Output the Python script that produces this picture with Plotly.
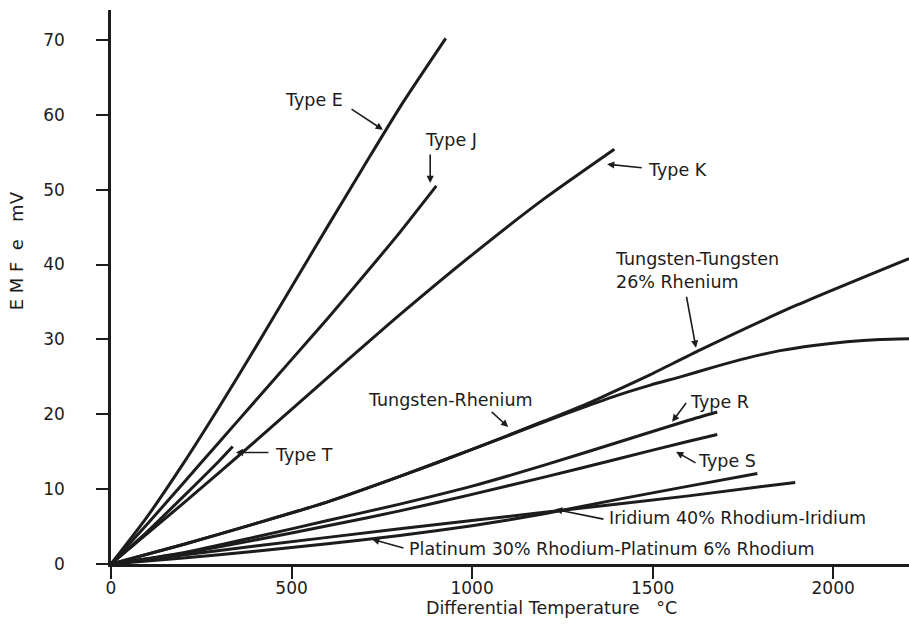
import plotly.graph_objects as go

# ---- data ----
type_e_t = [0, 100, 200, 300, 400, 500, 600, 700, 800, 927]
type_e_v = [0, 6.3, 13.4, 21.0, 28.9, 37.0, 45.1, 53.1, 61.0, 70.2]

type_j_t = [0, 100, 200, 300, 400, 500, 600, 700, 800, 901]
type_j_v = [0, 5.3, 10.8, 16.3, 21.8, 27.3, 32.8, 38.5, 44.3, 50.5]

type_k_t = [0, 200, 400, 600, 800, 1000, 1200, 1394]
type_k_v = [0, 8.1, 16.4, 24.9, 33.3, 41.3, 48.8, 55.4]

type_t_t = [0, 100, 200, 300, 337]
type_t_v = [0, 4.3, 9.0, 13.8, 15.7]

w_w26re_t = [0, 200, 400, 600, 800, 1000, 1200, 1318, 1400, 1494, 1632, 1900, 2210]
w_w26re_v = [0, 2.6, 5.4, 8.3, 11.7, 15.3, 19.1, 21.4, 23.2, 25.3, 28.6, 34.6, 40.8]

w_re_t = [0, 200, 400, 600, 800, 1000, 1200, 1318, 1400, 1494, 1577, 1669, 1761, 1853, 1946, 2038, 2130, 2210]
w_re_v = [0, 2.6, 5.4, 8.3, 11.7, 15.3, 19.0, 21.1, 22.5, 23.9, 25.0, 26.3, 27.5, 28.5, 29.2, 29.7, 30.0, 30.1]

type_r_t = [0, 200, 400, 600, 800, 1000, 1200, 1400, 1600, 1679]
type_r_v = [0, 1.5, 3.6, 5.8, 8.0, 10.4, 13.2, 16.2, 19.2, 20.3]

type_s_t = [0, 200, 400, 600, 800, 1000, 1200, 1400, 1600, 1679]
type_s_v = [0, 1.4, 3.2, 5.1, 7.1, 9.3, 11.6, 14.0, 16.4, 17.3]

type_b_t = [0, 200, 400, 600, 800, 1000, 1200, 1400, 1600, 1790]
type_b_v = [0, 0.8, 1.7, 2.7, 3.8, 5.1, 6.7, 8.6, 10.4, 12.1]

ir_rh_t = [0, 400, 800, 1200, 1600, 1895]
ir_rh_v = [0, 2.4, 4.7, 6.9, 9.1, 10.9]

x_ticks = [0, 500, 1000, 1500, 2000]
y_ticks = [0, 10, 20, 30, 40, 50, 60, 70]

# label text, text position (T, mV), anchor, arrow tail (T, mV), arrow tip (T, mV)
labels = [
    ("Type E", 562, 62.0, "center", (662, 60.9), (753, 58.0)),
    ("Type J", 942, 56.6, "center", (884, 54.9), (884, 50.9)),
    ("Type K", 1568, 52.6, "center", (1474, 52.9), (1374, 53.4)),
    ("Tungsten-Tungsten<br>26% Rhenium", 1391, 39.2, "left", (1593, 35.9), (1620, 28.9)),
    ("Tungsten-Rhenium", 939, 21.9, "center", (1050, 20.5), (1100, 18.3)),
    ("Type T", 535, 14.5, "center", (440, 14.9), (346, 14.9)),
    ("Type R", 1684, 21.6, "center", (1596, 21.7), (1554, 19.0)),
    ("Type S", 1706, 13.7, "center", (1623, 13.4), (1565, 15.0)),
    ("Iridium 40% Rhodium-Iridium", 1374, 6.1, "left", (1368, 5.95), (1230, 7.3)),
    ("Platinum 30% Rhodium-Platinum 6% Rhodium", 820, 2.07, "left", (814, 2.07), (723, 3.3)),
]

INK = "#1c1c1c"
FONT = "DejaVu Sans"

series = [
    (type_e_t, type_e_v), (type_j_t, type_j_v), (type_k_t, type_k_v),
    (type_t_t, type_t_v), (w_w26re_t, w_w26re_v), (w_re_t, w_re_v),
    (type_r_t, type_r_v), (type_s_t, type_s_v), (type_b_t, type_b_v),
    (ir_rh_t, ir_rh_v),
]

fig = go.Figure()
for t, v in series:
    fig.add_trace(go.Scatter(
        x=t, y=v, mode="lines",
        line=dict(color=INK, width=3, shape="spline", smoothing=0.6),
        showlegend=False, hoverinfo="skip",
    ))

annotations = []
for text, tx, ty, anchor, tail, tip in labels:
    annotations.append(dict(
        x=tx, y=ty, xref="x", yref="y", text=text, showarrow=False,
        xanchor=anchor, yanchor="middle", align="left",
        font=dict(family=FONT, size=17.5, color=INK),
    ))
    annotations.append(dict(
        x=tip[0], y=tip[1], xref="x", yref="y",
        ax=tail[0], ay=tail[1], axref="x", ayref="y",
        text="", showarrow=True, arrowhead=2, arrowsize=0.9,
        arrowwidth=1.6, arrowcolor=INK, standoff=0, startstandoff=0,
    ))

annotations.append(dict(
    x=0.552, y=-0.079, xref="paper", yref="paper",
    text="Differential Temperature\u00a0\u00a0\u00a0°C", showarrow=False,
    xanchor="center", yanchor="middle",
    font=dict(family=FONT, size=17.5, color=INK),
))
annotations.append(dict(
    x=-0.118, y=0.566, xref="paper", yref="paper",
    text="E\u00a0M\u00a0F\u00a0\u00a0e\u00a0\u00a0\u00a0mV", showarrow=False,
    textangle=-90, xanchor="center", yanchor="middle",
    font=dict(family=FONT, size=18, color=INK),
))

fig.update_layout(
    width=909, height=637,
    margin=dict(l=111, r=0, t=10, b=73, pad=0),
    paper_bgcolor="white", plot_bgcolor="white",
    annotations=annotations,
    xaxis=dict(
        range=[0, 2210], tickvals=x_ticks, showgrid=False, zeroline=False,
        showline=True, linewidth=2.5, linecolor=INK,
        ticks="outside", ticklen=12, tickwidth=2, tickcolor=INK,
        tickfont=dict(family=FONT, size=17, color=INK), ticklabelstandoff=-5,
    ),
    yaxis=dict(
        range=[0, 74], tickvals=y_ticks, showgrid=False, zeroline=False,
        showline=True, linewidth=2.5, linecolor=INK,
        ticks="outside", ticklen=12, tickwidth=2, tickcolor=INK,
        tickfont=dict(family=FONT, size=17, color=INK), ticklabelstandoff=28,
    ),
)

fig.write_html(
    "out.html",
    config={"displayModeBar": False},
    post_script="document.body.style.margin='0';",
)
